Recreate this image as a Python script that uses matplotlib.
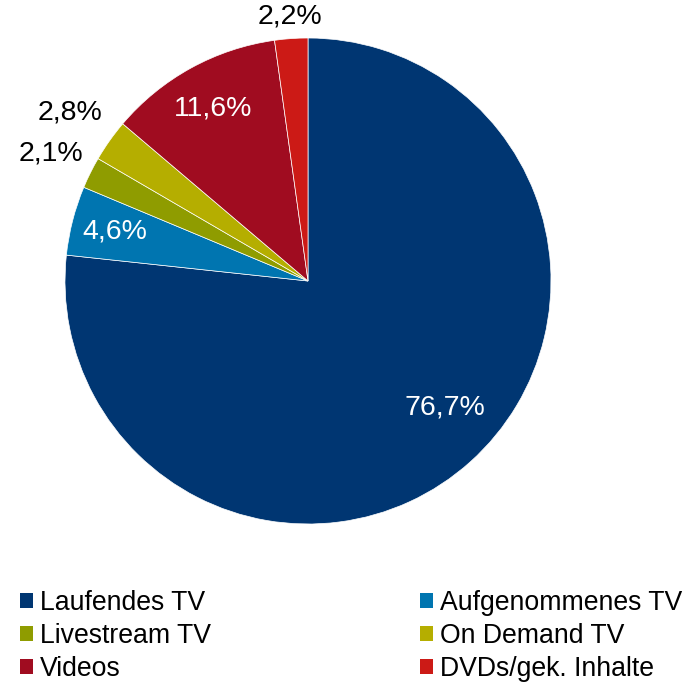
import matplotlib
matplotlib.use("Agg")
import matplotlib.pyplot as plt
from matplotlib.patches import Patch
import numpy as np

plt.rcParams['font.family'] = ['Liberation Sans', 'DejaVu Sans']

categories = ["Laufendes TV", "Aufgenommenes TV", "Livestream TV",
              "On Demand TV", "Videos", "DVDs/gek. Inhalte"]
values = [76.7, 4.6, 2.1, 2.8, 11.6, 2.2]
labels = ["76,7%", "4,6%", "2,1%", "2,8%", "11,6%", "2,2%"]
colors = ["#003672", "#0075B0", "#8F9C00", "#B5AE00", "#A00C20", "#CC1A16"]
label_colors = ["white", "white", "black", "black", "white", "black"]
# label placement: radial distance and angle offset (deg) from wedge middle
label_dist = [0.766, 0.82, 1.18, 1.20, 0.81, 1.09]
label_dang = [5.4, 0.0, 0.0, 0.0, 0.0, 0.0]

fig = plt.figure(figsize=(6.94, 6.82), dpi=100)
W, H = 694, 682
cx, cy, r = 308, 281, 243
ax = fig.add_axes([(cx - r) / W, (H - cy - r) / H, 2 * r / W, 2 * r / H])
wedges, _ = ax.pie(values, colors=colors, startangle=90, counterclock=False,
                   radius=1, wedgeprops=dict(edgecolor="white", linewidth=0.5))
ax.set_xlim(-1, 1)
ax.set_ylim(-1, 1)
ax.set_aspect("equal")
ax.axis("off")

for w, lab, lc, d, da in zip(wedges, labels, label_colors, label_dist, label_dang):
    ang = np.deg2rad((w.theta1 + w.theta2) / 2 + da)
    ax.text(d * np.cos(ang), d * np.sin(ang), lab, ha="center", va="center",
            fontsize=20.5, color=lc, clip_on=False)

handles = [Patch(facecolor=c, edgecolor="none") for c in colors]
common = dict(frameon=False, fontsize=19.2, handlelength=0.49, handleheight=0.49,
              handletextpad=0.27, labelspacing=0.265, borderpad=0, borderaxespad=0,
              loc="upper left")
leg1 = fig.legend([handles[i] for i in (0, 2, 4)], [categories[i] for i in (0, 2, 4)],
                  bbox_to_anchor=(20 / W, 1 - 590 / H), **common)
leg2 = fig.legend([handles[i] for i in (1, 3, 5)], [categories[i] for i in (1, 3, 5)],
                  bbox_to_anchor=(420 / W, 1 - 590 / H), **common)

fig.savefig("out.png", dpi=100)
